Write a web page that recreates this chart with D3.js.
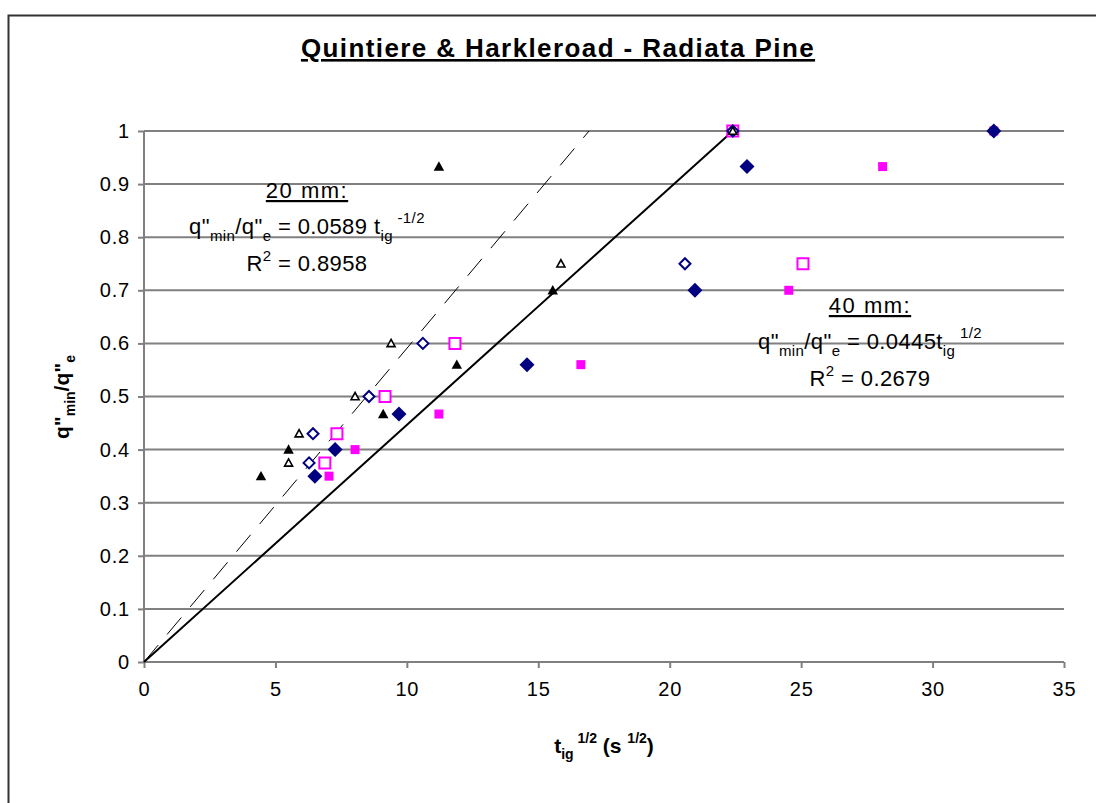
<!DOCTYPE html>
<head>
<meta charset="utf-8">
<title>Quintiere & Harkleroad - Radiata Pine</title>
<style>
body { margin: 0; background: #fff; }
svg { font-family: "Liberation Sans", Arial, sans-serif; }
.grid line { stroke: #808080; stroke-width: 2; }
.axis path, .axis line { stroke: #808080; stroke-width: 2; fill: none; }
.axis text { font-size: 20px; fill: #000; letter-spacing: 0.8px; }
</style>
</head>
<body>
<svg id="chart"></svg>
<script src="https://d3js.org/d3.v7.min.js"></script>
<script>

var xTicks = [0, 5, 10, 15, 20, 25, 30, 35];
var yTicks = [0, 0.1, 0.2, 0.3, 0.4, 0.5, 0.6, 0.7, 0.8, 0.9, 1];

// series (t_ig^1/2 , q"min/q"e)
var triFilledX = [4.45, 5.5, 9.1, 11.22, 11.9, 15.55];
var triFilledY = [0.35, 0.40, 0.467, 0.933, 0.56, 0.70];

var triOpenX = [5.5, 5.9, 8.03, 9.4, 15.86, 22.4];
var triOpenY = [0.375, 0.43, 0.50, 0.60, 0.75, 1.0];

var diaOpenX = [6.28, 6.43, 8.56, 10.61, 20.58, 22.4];
var diaOpenY = [0.375, 0.43, 0.50, 0.60, 0.75, 1.0];

var sqOpenX = [6.88, 7.34, 9.17, 11.83, 25.07, 22.4];
var sqOpenY = [0.375, 0.43, 0.50, 0.60, 0.75, 1.0];

var diaFilledX = [6.5, 7.27, 9.7, 14.57, 20.96, 22.94, 32.33];
var diaFilledY = [0.35, 0.40, 0.467, 0.56, 0.70, 0.933, 1.0];

var sqFilledX = [7.04, 8.03, 11.22, 16.62, 24.53, 28.1, 32.33];
var sqFilledY = [0.35, 0.40, 0.467, 0.56, 0.70, 0.933, 1.0];

// fitted lines
var fit20 = [[0, 0], [16.93, 1.0]];
var fit40 = [[0, 0], [22.4, 1.0]];

var W = 1096, H = 803;
var plot = {left: 144, right: 1064, top: 131, bottom: 662};

var svg = d3.select("#chart").attr("width", W).attr("height", H);

// outer chart frame
svg.append("rect")
    .attr("x", 8.5).attr("y", 15.5)
    .attr("width", W).attr("height", H)
    .attr("fill", "none").attr("stroke", "#333").attr("stroke-width", 2);

var x = d3.scaleLinear().domain([0, 35]).range([plot.left, plot.right]);
var y = d3.scaleLinear().domain([0, 1]).range([plot.bottom, plot.top]);

// gridlines
svg.append("g").attr("class", "grid")
  .selectAll("line").data(yTicks.slice(1)).enter().append("line")
    .attr("x1", plot.left).attr("x2", plot.right)
    .attr("y1", function(d) { return y(d); })
    .attr("y2", function(d) { return y(d); });

var xAxis = d3.axisBottom(x).tickValues(xTicks).tickSize(6).tickPadding(10)
    .tickFormat(d3.format("d"));
var yAxis = d3.axisLeft(y).tickValues(yTicks).tickSize(6).tickPadding(8)
    .tickFormat(function(d) { return d === 0 ? "0" : d === 1 ? "1" : d3.format(".1f")(d); });

var gx = svg.append("g").attr("class", "axis")
    .attr("transform", "translate(0," + plot.bottom + ")").call(xAxis);
gx.select(".domain").attr("d", "M" + plot.left + ",0H" + plot.right);
gx.selectAll("text").attr("dy", "0.9em");

var gy = svg.append("g").attr("class", "axis")
    .attr("transform", "translate(" + plot.left + ",0)").call(yAxis);
gy.select(".domain").attr("d", "M0," + plot.top + "V" + plot.bottom);

// fit lines
var line = d3.line().x(function(d) { return x(d[0]); }).y(function(d) { return y(d[1]); });
svg.append("path").datum(fit20).attr("d", line)
    .attr("fill", "none").attr("stroke", "#000").attr("stroke-width", 1)
    .attr("stroke-dasharray", "22,14");
svg.append("path").datum(fit40).attr("d", line)
    .attr("fill", "none").attr("stroke", "#000").attr("stroke-width", 2);

function zip(xs, ys) { return xs.map(function(v, i) { return [v, ys[i]]; }); }

function drawSeries(xs, ys, shape, size, fill, stroke, sw) {
  svg.append("g").selectAll("path").data(zip(xs, ys)).enter().append("path")
    .attr("d", d3.symbol().type(shape).size(size))
    .attr("transform", function(d) { return "translate(" + x(d[0]) + "," + y(d[1]) + ")"; })
    .attr("fill", fill).attr("stroke", stroke).attr("stroke-width", sw);
}

var diamond = {
  draw: function(ctx, size) {
    var r = Math.sqrt(size) / 2;
    ctx.moveTo(0, -r); ctx.lineTo(r, 0); ctx.lineTo(0, r); ctx.lineTo(-r, 0); ctx.closePath();
  }
};
var triangle = {
  draw: function(ctx, size) {
    var r = Math.sqrt(size) / 2;
    ctx.moveTo(0, -r); ctx.lineTo(r, r * 0.8); ctx.lineTo(-r, r * 0.8); ctx.closePath();
  }
};

drawSeries(sqFilledX, sqFilledY, d3.symbolSquare, 81, "#ff00ff", "none", 0);
drawSeries(diaFilledX, diaFilledY, diamond, 225, "#000080", "none", 0);
drawSeries(sqOpenX, sqOpenY, d3.symbolSquare, 121, "#fff", "#ff00ff", 2);
drawSeries(diaOpenX, diaOpenY, diamond, 121, "#fff", "#000080", 2);
drawSeries(triFilledX, triFilledY, triangle, 110, "#000", "none", 0);
drawSeries(triOpenX, triOpenY, triangle, 64, "#fff", "#000", 1.6);

// title
svg.append("text")
    .attr("x", 558).attr("y", 57)
    .attr("text-anchor", "middle")
    .attr("font-size", 26).attr("font-weight", "bold")
    .attr("letter-spacing", 1.4)
    .attr("text-decoration", "underline")
    .text("Quintiere & Harkleroad - Radiata Pine");

// axis titles
var xt = svg.append("text")
    .attr("x", 604).attr("y", 753)
    .attr("text-anchor", "middle")
    .attr("font-size", 21).attr("font-weight", "bold");
xt.append("tspan").text("t");
xt.append("tspan").attr("font-size", 14).attr("dy", 6).text("ig");
xt.append("tspan").attr("font-size", 14).attr("dy", -16).text(" 1/2");
xt.append("tspan").attr("dy", 10).text(" (s ");
xt.append("tspan").attr("font-size", 14).attr("dy", -10).text("1/2");
xt.append("tspan").attr("dy", 10).text(")");

var yt = svg.append("text")
    .attr("transform", "translate(69,397) rotate(-90)")
    .attr("text-anchor", "middle")
    .attr("font-size", 21).attr("font-weight", "bold");
yt.append("tspan").text("q\"");
yt.append("tspan").attr("font-size", 14).attr("dy", 6).text("min");
yt.append("tspan").attr("dy", -6).text("/q\"");
yt.append("tspan").attr("font-size", 14).attr("dy", 6).text("e");

// annotations
function annot(cx, y0, head, coef, expo, r2) {
  svg.append("text").attr("x", cx).attr("y", y0)
    .attr("text-anchor", "middle").attr("font-size", 22)
    .attr("letter-spacing", 1.5)
    .attr("text-decoration", "underline").text(head);
  var eq = svg.append("text").attr("x", cx).attr("y", y0 + 36)
    .attr("text-anchor", "middle").attr("font-size", 22)
    .attr("letter-spacing", 0.4);
  eq.append("tspan").text("q\"");
  eq.append("tspan").attr("font-size", 15).attr("dy", 7).text("min");
  eq.append("tspan").attr("dy", -7).text("/q\"");
  eq.append("tspan").attr("font-size", 15).attr("dy", 7).text("e");
  eq.append("tspan").attr("dy", -7).text(" = " + coef + "t");
  eq.append("tspan").attr("font-size", 15).attr("dy", 7).text("ig");
  eq.append("tspan").attr("font-size", 15).attr("dy", -18).text(expo);
  var r = svg.append("text").attr("x", cx).attr("y", y0 + 73)
    .attr("text-anchor", "middle").attr("font-size", 22)
    .attr("letter-spacing", 0.4);
  r.append("tspan").text("R");
  r.append("tspan").attr("font-size", 15).attr("dy", -10).text("2");
  r.append("tspan").attr("dy", 10).text(" = " + r2);
}
annot(307, 198, "20 mm:", "0.0589 ", "  -1/2", "0.8958");
annot(870, 313, "40 mm:", "0.0445", "  1/2", "0.2679");

</script>
</body>
